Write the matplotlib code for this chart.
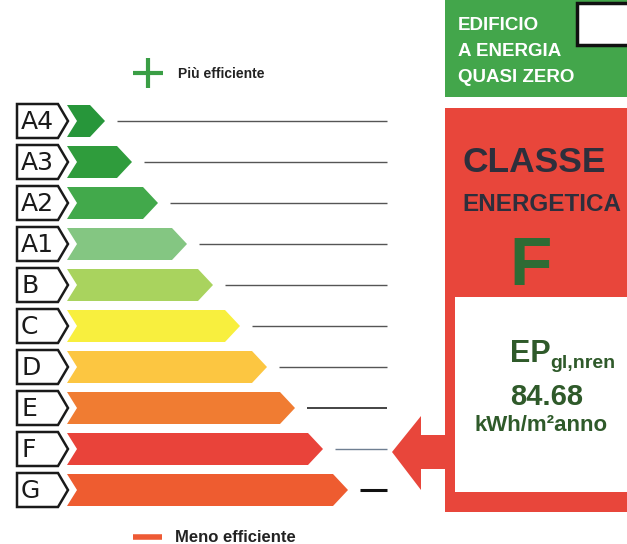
import matplotlib
matplotlib.use('Agg')
import matplotlib.pyplot as plt
from matplotlib.patches import Polygon, Rectangle

# energy classes, best to worst
classes = ['A4', 'A3', 'A2', 'A1', 'B', 'C', 'D', 'E', 'F', 'G']
bar_length = [38, 65, 91, 120, 146, 173, 200, 228, 256, 281]
bar_colors = ['#27963a', '#2f9c3c', '#42a94b', '#84c682', '#a9d35e',
              '#f8ef3e', '#fcc641', '#f07c32', '#e9433a', '#ee5c30']
line_colors = ['#555555'] * 7 + ['#111111', '#6f7f92', '#111111']
line_widths = [1.0] * 7 + [1.1, 1.0, 2.2]

current_class = 'F'
ep_label = 'EP'
ep_sub = 'gl,nren'
ep_value = 84.68
ep_unit = 'kWh/m²anno'
nzeb_text = ['EDIFICIO', 'A ENERGIA', 'QUASI ZERO']
top_legend = 'Più efficiente'
bottom_legend = 'Meno efficiente'

red = '#e8463b'
green_box = '#43a64b'
dark_green = '#2f5a2a'

fig = plt.figure(figsize=(6.27, 5.44), dpi=100)
ax = fig.add_axes([0, 0, 1, 1])
ax.set_xlim(0, 627)
ax.set_ylim(544, 0)
ax.axis('off')

# layout (pixels)
row_y0, row_step, half = 121, 41, 17
lab_x0, lab_x1, lab_tip = 17, 58, 10
bar_x0, notch, bar_tip = 67, 10, 15
line_gap, line_end = 12, 387

row_y = {}
for i, (c, L, col) in enumerate(zip(classes, bar_length, bar_colors)):
    y = row_y0 + i * row_step
    row_y[c] = y
    # label box
    ax.add_patch(Polygon([(lab_x0, y - half), (lab_x1, y - half), (lab_x1 + lab_tip, y),
                          (lab_x1, y + half), (lab_x0, y + half)],
                         closed=True, facecolor='white', edgecolor='#1a1a1a', lw=1.8))
    ax.text(21, y + 1, c, fontsize=18, family='DejaVu Sans', ha='left', va='center',
            color='#1a1a1a')
    # bar
    x_end = bar_x0 + L
    ax.add_patch(Polygon([(bar_x0, y - half + 1), (x_end - bar_tip, y - half + 1), (x_end, y),
                          (x_end - bar_tip, y + half - 1), (bar_x0, y + half - 1),
                          (bar_x0 + notch, y)],
                         closed=True, facecolor=col, edgecolor='none'))
    # value line
    ax.plot([x_end + line_gap, line_end], [y, y], color=line_colors[i],
            lw=line_widths[i], solid_capstyle='butt')

# legend marks
ax.plot([133, 163], [73, 73], color='#3a9e45', lw=3, solid_capstyle='butt')
ax.plot([148, 148], [58, 88], color='#3a9e45', lw=3, solid_capstyle='butt')
ax.text(178, 78, top_legend, fontsize=10, fontweight='bold', family='Liberation Sans',
        va='baseline', color='#222222')
ax.plot([133, 162], [537, 537], color='#ee5a35', lw=4, solid_capstyle='butt')
ax.text(175, 542, bottom_legend, fontsize=12, fontweight='bold', family='Liberation Sans',
        va='baseline', color='#222222')

# NZEB box
ax.add_patch(Rectangle((445, 0), 200, 97, facecolor=green_box, edgecolor='none'))
for k, t in enumerate(nzeb_text):
    ax.text(458, 30 + k * 26, t, fontsize=13.5, fontweight='bold', family='Liberation Sans',
            color='white', va='baseline')
ax.add_patch(Rectangle((577, 3), 60, 42, facecolor='white', edgecolor='#111111', lw=2.5))

# class box
ax.add_patch(Rectangle((445, 108), 200, 404, facecolor=red, edgecolor='none'))
ax.text(462, 172, 'CLASSE', fontsize=25.5, fontweight='bold', family='Liberation Sans',
        color='#2d2f3c', va='baseline')
ax.text(462, 211, 'ENERGETICA', fontsize=17.5, fontweight='bold', family='Liberation Sans',
        color='#2d2f3c', va='baseline')
ax.text(531, 285, current_class, fontsize=50, fontweight='bold', family='Liberation Sans',
        color='#2e6b34', ha='center', va='baseline')
ax.add_patch(Rectangle((455, 297), 200, 195, facecolor='white', edgecolor='none'))

# pointer arrow at current class
ya = row_y[current_class] + 3
ax.add_patch(Polygon([(392, ya), (421, ya - 36), (421, ya - 17), (446, ya - 17),
                      (446, ya + 17), (421, ya + 17), (421, ya + 38)],
                     closed=True, facecolor=red, edgecolor='none'))

# EP value
ax.text(510, 362, ep_label, fontsize=22, fontweight='bold', family='Liberation Sans',
        color=dark_green, va='baseline')
ax.text(550, 368, ep_sub, fontsize=14, fontweight='bold', family='Liberation Sans',
        color=dark_green, va='baseline')
ax.text(547, 405, f'{ep_value:.2f}', fontsize=21, fontweight='bold', family='Liberation Sans',
        color=dark_green, ha='center', va='baseline')
ax.text(541, 431, ep_unit, fontsize=16, fontweight='bold', family='Liberation Sans',
        color=dark_green, ha='center', va='baseline')

fig.savefig('out.png', dpi=100)
